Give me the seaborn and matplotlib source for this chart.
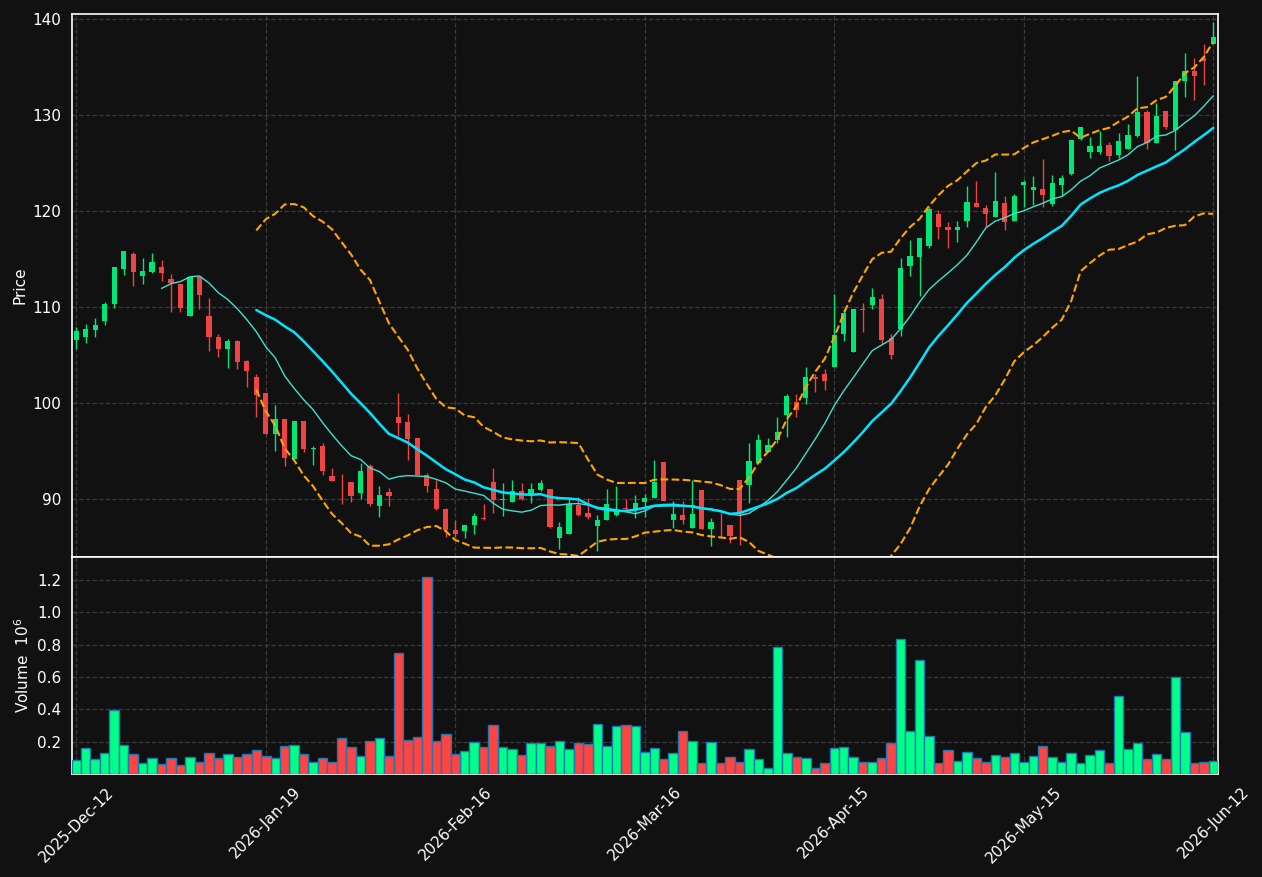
import numpy as np
import pandas as pd
import matplotlib
matplotlib.use("Agg")
import matplotlib.pyplot as plt
import seaborn as sns

# ---------------- data ----------------
tick_pos = [0, 20, 40, 60, 80, 100, 120]
tick_labels = ["2025-Dec-12", "2026-Jan-19", "2026-Feb-16", "2026-Mar-16",
               "2026-Apr-15", "2026-May-15", "2026-Jun-12"]

opens = [106.53, 106.84, 107.67, 108.51, 110.28, 113.92, 115.56, 113.19, 113.61, 114.20,
         112.95, 112.43, 109.10, 113.09, 109.10, 106.91, 105.66, 106.49, 104.41, 102.74,
         101.08, 96.77, 98.38, 94.19, 98.18, 95.22, 95.60, 92.47, 92.03, 91.79,
         90.69, 93.50, 89.35, 90.76, 98.59, 98.01, 96.39, 92.58, 91.07, 89.00,
         86.84, 86.67, 87.29, 88.04, 91.79, 89.90, 89.76, 90.86, 90.55, 90.96,
         91.07, 85.94, 86.43, 89.42, 88.59, 87.18, 87.80, 88.32, 89.10, 89.00,
         89.76, 90.14, 93.87, 87.89, 88.38, 87.06, 90.97, 86.96, 87.34, 87.34,
         92.00, 91.52, 93.80, 94.94, 96.18, 98.77, 100.16, 100.54, 102.78, 103.09,
         103.75, 107.18, 105.33, 109.79, 110.24, 110.86, 106.74, 107.77, 114.30, 115.22,
         116.36, 119.73, 118.38, 118.01, 118.93, 120.86, 120.34, 119.35, 120.86, 118.93,
         122.68, 122.20, 122.29, 120.70, 122.71, 123.89, 127.53, 126.18, 126.18, 126.88,
         125.87, 126.49, 127.85, 130.28, 127.12, 130.38, 128.40, 133.58, 134.55, 135.94,
         137.43]
highs = [107.92, 108.23, 108.85, 110.49, 114.20, 115.87, 115.73, 115.10, 115.63, 114.86,
         113.44, 112.43, 113.09, 113.09, 110.94, 107.19, 106.70, 106.60, 104.51, 103.02,
         101.08, 99.83, 98.38, 98.18, 98.18, 95.57, 95.88, 93.30, 92.68, 91.79,
         93.78, 93.71, 91.34, 91.13, 101.03, 98.87, 96.39, 92.78, 91.99, 89.07,
         87.84, 87.35, 88.56, 89.48, 93.30, 91.75, 91.96, 91.75, 91.65, 91.96,
         91.07, 87.63, 90.10, 90.27, 90.17, 88.42, 91.03, 91.37, 90.00, 90.41,
         90.52, 94.10, 93.87, 89.86, 89.79, 92.00, 90.97, 88.03, 88.58, 87.34,
         92.00, 95.84, 96.84, 96.42, 98.60, 100.95, 100.98, 103.78, 102.99, 103.51,
         111.35, 109.79, 109.83, 110.41, 111.96, 111.37, 107.25, 115.09, 117.01, 117.15,
         120.38, 120.10, 118.87, 119.00, 122.61, 123.13, 120.62, 124.02, 121.55, 121.75,
         123.26, 123.61, 125.45, 123.72, 123.72, 127.40, 128.75, 127.67, 128.37, 127.22,
         128.16, 129.03, 134.03, 130.56, 131.28, 130.38, 133.51, 136.42, 135.90, 137.36,
         139.62]
lows = [105.63, 106.25, 106.94, 108.13, 109.90, 113.33, 112.15, 112.40, 113.50, 112.71,
        109.48, 109.48, 109.10, 109.79, 105.42, 104.79, 103.65, 103.54, 101.67, 98.54,
        96.84, 95.02, 93.47, 94.19, 94.91, 93.61, 92.58, 91.92, 89.48, 89.69,
        90.00, 89.28, 88.14, 89.28, 96.56, 94.12, 92.54, 90.72, 88.87, 86.08,
        86.08, 85.98, 86.39, 87.84, 88.63, 88.25, 89.69, 89.97, 89.59, 90.89,
        87.04, 84.88, 86.43, 88.25, 87.97, 84.67, 87.80, 88.25, 88.90, 88.04,
        88.14, 90.14, 89.83, 87.00, 87.41, 87.06, 86.93, 85.10, 86.03, 85.44,
        85.20, 89.59, 93.80, 94.94, 95.91, 96.53, 98.60, 99.91, 101.19, 101.36,
        103.75, 106.46, 105.33, 107.42, 109.79, 106.12, 104.60, 106.98, 113.26, 111.13,
        116.19, 117.08, 116.15, 116.77, 118.32, 120.38, 118.38, 119.35, 118.04, 118.93,
        120.41, 120.62, 120.40, 120.50, 121.56, 123.78, 127.36, 125.49, 125.94, 125.17,
        125.49, 126.49, 127.74, 126.42, 127.12, 128.51, 126.35, 131.84, 131.53, 133.09,
        137.43]
closes = [107.53, 107.74, 108.16, 110.35, 114.20, 115.87, 113.61, 113.78, 114.72, 113.50,
          112.50, 109.93, 113.09, 111.22, 106.94, 105.66, 106.49, 104.31, 103.40, 100.90,
          96.84, 98.38, 94.30, 98.18, 95.19, 95.29, 92.96, 91.92, 91.98, 90.38,
          92.92, 89.52, 90.45, 90.34, 97.90, 96.29, 92.54, 91.41, 89.04, 86.84,
          86.39, 87.35, 88.28, 87.98, 89.93, 90.00, 90.82, 90.03, 91.07, 91.65,
          87.11, 87.11, 89.55, 88.38, 88.21, 87.87, 89.48, 88.76, 88.95, 89.59,
          90.14, 91.83, 89.83, 88.48, 87.89, 88.48, 86.93, 87.65, 87.30, 86.23,
          88.65, 93.94, 96.15, 95.63, 97.05, 100.71, 99.29, 102.78, 102.50, 102.30,
          107.13, 109.35, 109.83, 109.75, 111.07, 106.56, 105.02, 114.05, 115.29, 117.15,
          120.24, 118.32, 118.04, 118.38, 120.96, 120.38, 119.66, 121.07, 118.83, 121.55,
          123.02, 122.51, 121.70, 122.88, 123.40, 127.40, 128.75, 126.74, 126.74, 125.69,
          127.26, 127.92, 130.28, 127.12, 129.90, 128.78, 133.51, 134.58, 134.06, 135.66,
          138.13]
volumes = [0.089, 0.163, 0.090, 0.132, 0.396, 0.181, 0.126, 0.071, 0.102, 0.059,
           0.096, 0.053, 0.108, 0.077, 0.132, 0.102, 0.126, 0.108, 0.126, 0.151,
           0.114, 0.096, 0.175, 0.181, 0.126, 0.077, 0.102, 0.077, 0.224, 0.169,
           0.114, 0.206, 0.224, 0.114, 0.746, 0.212, 0.231, 1.218, 0.206, 0.249,
           0.126, 0.145, 0.200, 0.169, 0.304, 0.169, 0.157, 0.120, 0.194, 0.194,
           0.175, 0.206, 0.157, 0.194, 0.188, 0.310, 0.175, 0.298, 0.304, 0.298,
           0.139, 0.163, 0.090, 0.132, 0.267, 0.206, 0.065, 0.200, 0.065, 0.108,
           0.077, 0.157, 0.090, 0.040, 0.783, 0.132, 0.108, 0.102, 0.040, 0.065,
           0.163, 0.169, 0.108, 0.077, 0.077, 0.102, 0.194, 0.838, 0.267, 0.703,
           0.237, 0.065, 0.151, 0.083, 0.139, 0.096, 0.077, 0.120, 0.108, 0.132,
           0.077, 0.114, 0.175, 0.108, 0.077, 0.132, 0.065, 0.120, 0.151, 0.071,
           0.482, 0.157, 0.194, 0.090, 0.126, 0.090, 0.599, 0.261, 0.071, 0.077,
           0.083]

# ---------------- style ----------------
BG = "#111111"
UP_C, DN_C = "#00e676", "#ef4444"
VUP_C, VDN_C = "#00ff88", "#ff4444"
GRID_C = "#3a3a3a"

sns.set_theme(style="dark")
plt.rcParams.update({
    "font.family": ["DejaVu Sans"],
    "figure.facecolor": BG,
    "axes.facecolor": BG,
    "axes.edgecolor": "white",
    "axes.labelcolor": "white",
    "xtick.color": "white",
    "ytick.color": "white",
    "text.color": "white",
})

n = len(closes)
df = pd.DataFrame({"idx": np.arange(n), "open": opens, "high": highs,
                   "low": lows, "close": closes, "volume": volumes})
df["dir"] = np.where(df["close"] >= df["open"], "up", "down")
df["ma10"] = df["close"].rolling(10).mean()
df["ma20"] = df["close"].rolling(20).mean()
sd = df["close"].rolling(20).std(ddof=0)
df["bb_up"] = df["ma20"] + 2 * sd
df["bb_lo"] = df["ma20"] - 2 * sd

fig = plt.figure(figsize=(12.62, 8.77), dpi=100, facecolor=BG)
L, W = 72 / 1262, (1218 - 72) / 1262
ax = fig.add_axes([L, 1 - 557 / 877, W, (557 - 14) / 877])
axv = fig.add_axes([L, 1 - 774 / 877, W, (774 - 557) / 877])

# ---------------- candles ----------------
cols = np.where(df["dir"] == "up", UP_C, DN_C)
ax.vlines(df["idx"], df["low"], df["high"], colors=cols, lw=1.0, zorder=2)
body_lo = np.minimum(df["open"], df["close"])
body_h = np.maximum(np.abs(df["close"] - df["open"]), 0.08)
ax.bar(df["idx"], body_h, bottom=body_lo, width=0.55, color=cols, lw=0, zorder=3)

# ---------------- indicators ----------------
sns.lineplot(data=df, x="idx", y="ma10", ax=ax, color="#40e0d0", lw=1.0, zorder=4)
sns.lineplot(data=df, x="idx", y="ma20", ax=ax, color="#00e5ff", lw=1.8, zorder=4)
sns.lineplot(data=df, x="idx", y="bb_up", ax=ax, color="#ffa500", lw=1.5, ls="--", zorder=4)
sns.lineplot(data=df, x="idx", y="bb_lo", ax=ax, color="#ffa500", lw=1.5, ls="--", zorder=4)

# ---------------- volume ----------------
sns.barplot(data=df, x="idx", y="volume", hue="dir", ax=axv,
            palette={"up": VUP_C, "down": VDN_C}, dodge=False, width=1.0,
            saturation=1, errorbar=None, edgecolor="#1f77b4", linewidth=1.0,
            legend=False, zorder=3)

# ---------------- axes formatting ----------------
xlim = (-0.45, 120.5)
for a in (ax, axv):
    a.set_facecolor(BG)
    a.set_xlim(*xlim)
    a.set_xticks(tick_pos)
    a.grid(True, which="major", axis="both", color=GRID_C, ls="--", lw=0.9, zorder=0)
    a.set_axisbelow(True)
    for s in a.spines.values():
        s.set_color("white")
        s.set_linewidth(1.2)
    a.tick_params(axis="both", colors="white", labelsize=11, length=4, width=1)
    a.set_xlabel("")

ax.set_ylim(84.0, 140.5)
ax.set_yticks([90, 100, 110, 120, 130, 140])
ax.set_xticklabels([])
ax.tick_params(axis="x", length=0)
ax.set_ylabel("Price", fontsize=11, color="white")

axv.set_ylim(0, 1.343)
axv.set_yticks([0.2, 0.4, 0.6, 0.8, 1.0, 1.2])
axv.set_yticklabels(["0.2", "0.4", "0.6", "0.8", "1.0", "1.2"])
axv.set_xticklabels(tick_labels, rotation=45, ha="center")
axv.set_ylabel("Volume  $10^{6}$", fontsize=11, color="white")

fig.savefig("out.png", dpi=100, facecolor=BG)
